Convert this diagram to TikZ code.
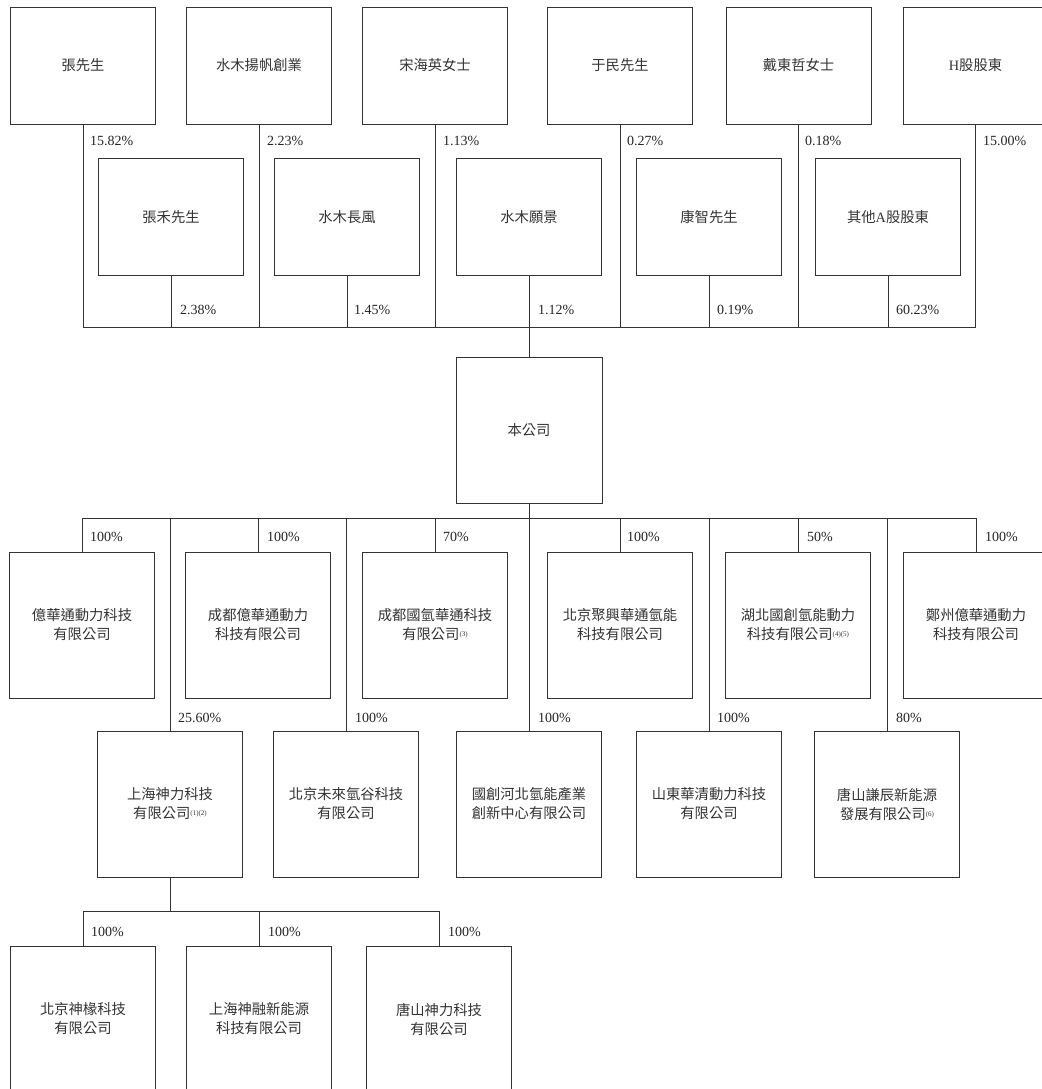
\documentclass[tikz,border=0pt]{standalone}
\usepackage{fontspec}
\setmainfont{Liberation Serif}
\newfontfamily\cjk{Noto Sans CJK TC}
\newcommand{\fn}[1]{\raisebox{3pt}{\fontsize{7}{7}\selectfont\rmfamily #1}}
\begin{document}
\begin{tikzpicture}
    [x=1pt,y=-1pt,
    box/.style={draw=black!80,line width=0.8pt,minimum width=145pt,minimum height=146pt,
        align=center,inner sep=0pt,text=black!80,font=\fontsize{14.3}{19}\selectfont\cjk},
    holder/.style={box,minimum height=117pt},
    pct/.style={anchor=west,inner sep=0pt,text=black!85,font=\fontsize{14}{16}\selectfont},
    link/.style={draw=black!80,line width=0.8pt}]
    \useasboundingbox (0,0) rectangle (1041,1089);
    %shareholders
    \node[holder] (zhang) at (83,65.5) {張先生};
    \node[holder] (yangfan) at (259,65.5) {水木揚帆創業};
    \node[holder] (song) at (435,65.5) {宋海英女士};
    \node[holder] (yu) at (620,65.5) {于民先生};
    \node[holder] (dai) at (798.5,65.5) {戴東哲女士};
    \node[holder] (hshare) at (975.5,65.5) {{\rmfamily H}股股東};
    \node[holder] (zhanghe) at (171,217) {張禾先生};
    \node[holder] (changfeng) at (347,217) {水木長風};
    \node[holder] (yuanjing) at (529,217) {水木願景};
    \node[holder] (kang) at (709,217) {康智先生};
    \node[holder] (ashare) at (888,217) {其他{\rmfamily A}股股東};
    %company
    \node[box,minimum width=146pt] (co) at (529,430) {本公司};
    %subsidiaries
    \node[box] (yht) at (82,625) {億華通動力科技\\有限公司};
    \node[box] (cdyht) at (258,625) {成都億華通動力\\科技有限公司};
    \node[box] (cdgq) at (435,625) {成都國氫華通科技\\有限公司\fn{(3)}};
    \node[box] (bjjx) at (620,625) {北京聚興華通氫能\\科技有限公司};
    \node[box] (hbgc) at (798,625) {湖北國創氫能動力\\科技有限公司\fn{(4)(5)}};
    \node[box] (zzyht) at (976,625) {鄭州億華通動力\\科技有限公司};
    \node[box] (shsl) at (170,804) {上海神力科技\\有限公司\fn{(1)(2)}};
    \node[box] (bjwl) at (346,804) {北京未來氫谷科技\\有限公司};
    \node[box] (gchb) at (529,804) {國創河北氫能產業\\創新中心有限公司};
    \node[box] (sdhq) at (709,804) {山東華清動力科技\\有限公司};
    \node[box] (tsqc) at (887,804) {唐山謙辰新能源\\發展有限公司\fn{(6)}};
    \node[box] (bjsc) at (83,1019) {北京神椽科技\\有限公司};
    \node[box] (shsr) at (259,1019) {上海神融新能源\\科技有限公司};
    \node[box] (tssl) at (439,1019) {唐山神力科技\\有限公司};
    %bus lines
    \coordinate (topbus) at (0,327);
    \coordinate (midbus) at (0,518);
    \coordinate (subbus) at (0,911);
    \draw[link] (zhang.south) |- (hshare.south |- topbus) -- (hshare.south);
    \foreach \n in {yangfan,song,yu,dai,zhanghe,changfeng,kang,ashare}
        \draw[link] (\n.south) -- (\n.south |- topbus);
    \draw[link] (yuanjing.south) -- (co.north);
    \draw[link] (co.south) -- (co.south |- midbus);
    \draw[link] (yht.north) |- (zzyht.north |- midbus) -- (zzyht.north);
    \foreach \n in {cdyht,cdgq,bjjx,hbgc,shsl,bjwl,gchb,sdhq,tsqc}
        \draw[link] (\n.north) -- (\n.north |- midbus);
    \draw[link] (shsl.south) -- (shsl.south |- subbus);
    \draw[link] (bjsc.north) |- (tssl.north |- subbus) -- (tssl.north);
    \draw[link] (shsr.north) -- (shsr.north |- subbus);
    %percentages
    \node[pct] (p1) at (90,141) {15.82\%};
    \node[pct] (p2) at (267,141) {2.23\%};
    \node[pct] (p3) at (443,141) {1.13\%};
    \node[pct] (p4) at (627,141) {0.27\%};
    \node[pct] (p5) at (805,141) {0.18\%};
    \node[pct] (p6) at (983,141) {15.00\%};
    \node[pct] (q1) at (180,310) {2.38\%};
    \node[pct] (q2) at (354,310) {1.45\%};
    \node[pct] (q3) at (538,310) {1.12\%};
    \node[pct] (q4) at (717,310) {0.19\%};
    \node[pct] (q5) at (896,310) {60.23\%};
    \node[pct] (r1) at (90,537) {100\%};
    \node[pct] (r2) at (267,537) {100\%};
    \node[pct] (r3) at (443,537) {70\%};
    \node[pct] (r4) at (627,537) {100\%};
    \node[pct] (r5) at (807,537) {50\%};
    \node[pct] (r6) at (985,537) {100\%};
    \node[pct] (s1) at (178,718) {25.60\%};
    \node[pct] (s2) at (355,718) {100\%};
    \node[pct] (s3) at (538,718) {100\%};
    \node[pct] (s4) at (717,718) {100\%};
    \node[pct] (s5) at (896,718) {80\%};
    \node[pct] (t1) at (91,932) {100\%};
    \node[pct] (t2) at (268,932) {100\%};
    \node[pct] (t3) at (448,932) {100\%};
\end{tikzpicture}
\end{document}
